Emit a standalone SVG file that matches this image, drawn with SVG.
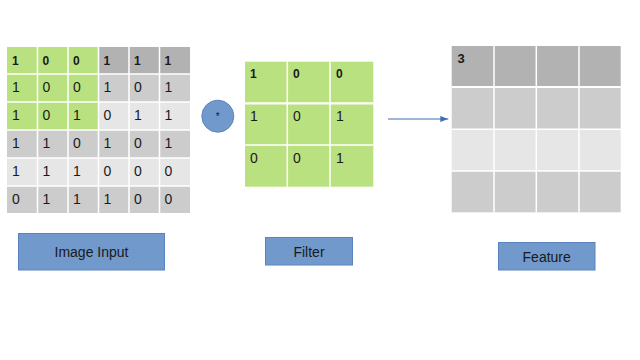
<svg xmlns="http://www.w3.org/2000/svg" width="640" height="360" viewBox="0 0 640 360">
<defs>
<style>
.g{fill:#b9e17f}
.d{fill:#b2b2b2}
.m{fill:#cccccc}
.l{fill:#e6e6e6}
.sep{stroke:#ffffff;stroke-width:1.5;fill:none}
.n{font-family:"Liberation Sans",Arial,sans-serif;font-size:14px;fill:#1a1a1a}
.b{font-family:"Liberation Sans",Arial,sans-serif;font-size:12px;font-weight:bold;fill:#1a1a1a}
.box{fill:#7199cb;stroke:#5b84be;stroke-width:1}
.lbl{font-family:"Liberation Sans",Arial,sans-serif;font-size:14px;fill:#1a1a1a;text-anchor:middle}
</style>
<marker id="ah" markerWidth="8" markerHeight="6" refX="8" refY="3" orient="auto" markerUnits="userSpaceOnUse">
<path d="M0,0 L8,3 L0,6 Z" fill="#3d6db5"/>
</marker>
</defs>
<rect width="640" height="360" fill="#ffffff"/>

<g id="image-input-grid">
<rect class="d" x="7" y="47" width="183" height="27"/>
<rect class="m" x="7" y="74" width="183" height="28"/>
<rect class="l" x="7" y="102" width="183" height="28"/>
<rect class="m" x="7" y="130" width="183" height="28"/>
<rect class="l" x="7" y="158" width="183" height="28"/>
<rect class="m" x="7" y="186" width="183" height="27"/>
<rect class="g" x="7" y="47" width="91.5" height="83"/>
<path class="sep" d="M37.5,47V213M68,47V213M98.5,47V213M129,47V213M159.5,47V213M7,74H190M7,102H190M7,130H190M7,158H190M7,186H190"/>
<text class="b" x="12" y="65">1</text><text class="b" x="42.5" y="65">0</text><text class="b" x="73" y="65">0</text><text class="b" x="103.5" y="65">1</text><text class="b" x="134" y="65">1</text><text class="b" x="164.5" y="65">1</text>
<text class="n" x="12" y="92">1</text><text class="n" x="42.5" y="92">0</text><text class="n" x="73" y="92">0</text><text class="n" x="103.5" y="92">1</text><text class="n" x="134" y="92">0</text><text class="n" x="164.5" y="92">1</text>
<text class="n" x="12" y="120">1</text><text class="n" x="42.5" y="120">0</text><text class="n" x="73" y="120">1</text><text class="n" x="103.5" y="120">0</text><text class="n" x="134" y="120">1</text><text class="n" x="164.5" y="120">1</text>
<text class="n" x="12" y="148">1</text><text class="n" x="42.5" y="148">1</text><text class="n" x="73" y="148">0</text><text class="n" x="103.5" y="148">1</text><text class="n" x="134" y="148">0</text><text class="n" x="164.5" y="148">1</text>
<text class="n" x="12" y="176">1</text><text class="n" x="42.5" y="176">1</text><text class="n" x="73" y="176">1</text><text class="n" x="103.5" y="176">0</text><text class="n" x="134" y="176">0</text><text class="n" x="164.5" y="176">0</text>
<text class="n" x="12" y="203.5">0</text><text class="n" x="42.5" y="203.5">1</text><text class="n" x="73" y="203.5">1</text><text class="n" x="103.5" y="203.5">1</text><text class="n" x="134" y="203.5">0</text><text class="n" x="164.5" y="203.5">0</text>
</g>

<g id="conv-operator">
<circle cx="217.8" cy="116.2" r="16" fill="#7199cb" stroke="#5b84be" stroke-width="1"/>
<text x="217.8" y="120" font-family="Liberation Sans, Arial, sans-serif" font-size="10" fill="#1a1a1a" text-anchor="middle">*</text>
</g>

<g id="filter-grid">
<rect class="g" x="245" y="61.7" width="128.3" height="125"/>
<path class="sep" d="M287.3,61.7V186.7M330,61.7V186.7M245,145H373.3"/>
<path d="M245,103.3H373.3" stroke="#ffffff" stroke-width="2.2"/>
<text class="b" x="250" y="78.3">1</text><text class="b" x="293" y="78.3">0</text><text class="b" x="336" y="78.3">0</text>
<text class="n" x="250" y="120.7">1</text><text class="n" x="293" y="120.7">0</text><text class="n" x="336" y="120.7">1</text>
<text class="n" x="250" y="163.3">0</text><text class="n" x="293" y="163.3">0</text><text class="n" x="336" y="163.3">1</text>
</g>

<g id="feature-grid">
<rect class="d" x="451.7" y="46" width="169" height="40.7"/>
<rect class="m" x="451.7" y="86.7" width="169" height="42.6"/>
<rect class="l" x="451.7" y="129.3" width="169" height="41.7"/>
<rect class="m" x="451.7" y="171" width="169" height="41.3"/>
<path class="sep" d="M494,46V212.3M536.3,46V212.3M579,46V212.3M451.7,129.3H620.7M451.7,171H620.7"/>
<path d="M451.7,87H620.7" stroke="#ffffff" stroke-width="2.2"/>
<text class="b" x="457.5" y="62.7" style="font-size:13px">3</text>
</g>

<g id="connectors">
<line x1="388" y1="119" x2="448.3" y2="119" stroke="#3d6db5" stroke-width="1" marker-end="url(#ah)"/>
</g>

<g id="label-image-input">
<rect class="box" x="18.5" y="233.5" width="146" height="36.5"/>
<text class="lbl" x="91.5" y="257">Image Input</text>
</g>
<g id="label-filter">
<rect class="box" x="265.5" y="237.5" width="87" height="27.5"/>
<text class="lbl" x="309" y="257">Filter</text>
</g>
<g id="label-feature">
<rect class="box" x="498.5" y="242.5" width="96.5" height="27.5"/>
<text class="lbl" x="546.7" y="262">Feature</text>
</g>
</svg>
